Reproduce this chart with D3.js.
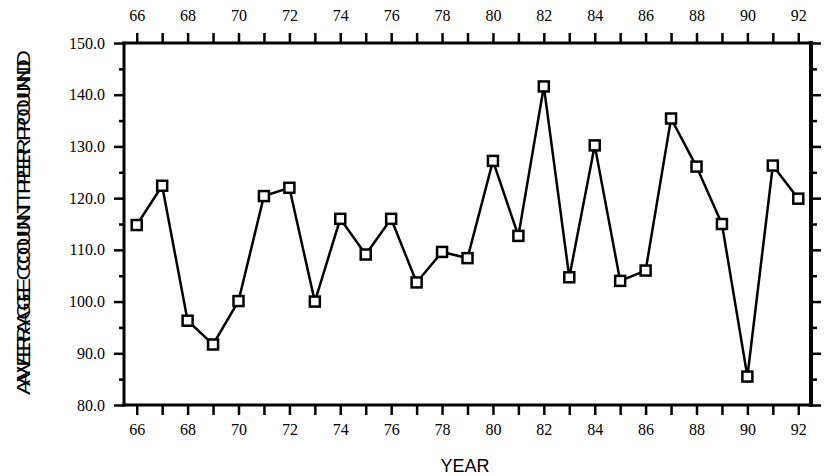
<!DOCTYPE html>
<html>
<head>
<meta charset="utf-8">
<script src="https://cdn.jsdelivr.net/npm/d3@7"></script>
<style>
  body { margin: 0; background: #fff; }
</style>
</head>
<body>
<div id="chart"></div>
<script>
// Average count per pound by year
const years = [66, 67, 68, 69, 70, 71, 72, 73, 74, 75, 76, 77, 78, 79,
               80, 81, 82, 83, 84, 85, 86, 87, 88, 89, 90, 91, 92];
const counts = [114.8, 122.4, 96.3, 91.7, 100.1, 120.4, 122.0, 100.0, 116.0, 109.1, 116.0, 103.7, 109.6, 108.4,
                127.2, 112.7, 141.6, 104.7, 130.2, 104.0, 106.0, 135.4, 126.1, 115.0, 85.5, 126.3, 119.9];
const yMajorTicks = [80, 90, 100, 110, 120, 130, 140, 150];
const yMinorTicks = [85, 95, 105, 115, 125, 135, 145];
const xLabelTicks = [66, 68, 70, 72, 74, 76, 78, 80, 82, 84, 86, 88, 90, 92];

const width = 825, height = 476;
const plot = { left: 124, right: 811, top: 43, bottom: 405 };
const serif = '"Liberation Serif", "Times New Roman", serif';
const sans = '"Liberation Sans", Arial, sans-serif';

const svg = d3.select('#chart')
    .append('svg')
    .attr('width', width)
    .attr('height', height);

const x = d3.scaleLinear().domain([65.5, 92.5]).range([plot.left, plot.right]);
const y = d3.scaleLinear().domain([80, 150]).range([plot.bottom, plot.top]);

const fmtY = d3.format('.1f');
const showX = d => xLabelTicks.includes(d) ? d : '';

function styleAxis(g) {
    g.select('.domain').remove();
    g.attr('font-family', null).attr('font-size', null);
    g.selectAll('.tick line').attr('stroke', '#000').attr('stroke-width', 2.5);
    g.selectAll('.tick text')
        .attr('fill', '#000')
        .style('font-family', serif)
        .style('font-size', '16px');
}

// left axis: major with labels, minor without
svg.append('g')
    .attr('transform', `translate(${plot.left},0)`)
    .call(d3.axisLeft(y).tickValues(yMajorTicks).tickSize(10).tickPadding(9).tickFormat(fmtY))
    .call(styleAxis);
svg.append('g')
    .attr('transform', `translate(${plot.left},0)`)
    .call(d3.axisLeft(y).tickValues(yMinorTicks).tickSize(5).tickFormat(''))
    .call(styleAxis);

// right axis, ticks only
svg.append('g')
    .attr('transform', `translate(${plot.right},0)`)
    .call(d3.axisRight(y).tickValues(yMajorTicks).tickSize(10).tickFormat(''))
    .call(styleAxis);
svg.append('g')
    .attr('transform', `translate(${plot.right},0)`)
    .call(d3.axisRight(y).tickValues(yMinorTicks).tickSize(6).tickFormat(''))
    .call(styleAxis);

// top and bottom axes, a tick every year
svg.append('g')
    .attr('transform', `translate(0,${plot.top})`)
    .call(d3.axisTop(x).tickValues(years).tickSize(10).tickPadding(12).tickFormat(showX))
    .call(styleAxis);
svg.append('g')
    .attr('transform', `translate(0,${plot.bottom})`)
    .call(d3.axisBottom(x).tickValues(years).tickSize(10).tickPadding(9).tickFormat(showX))
    .call(styleAxis);

// frame
const frame = svg.append('g').attr('stroke', '#000').attr('stroke-linecap', 'square');
frame.append('line').attr('x1', plot.left).attr('x2', plot.right).attr('y1', plot.top).attr('y2', plot.top).attr('stroke-width', 3);
frame.append('line').attr('x1', plot.left).attr('x2', plot.right).attr('y1', plot.bottom).attr('y2', plot.bottom).attr('stroke-width', 3);
frame.append('line').attr('x1', plot.left).attr('x2', plot.left).attr('y1', plot.top).attr('y2', plot.bottom).attr('stroke-width', 3);
frame.append('line').attr('x1', plot.right).attr('x2', plot.right).attr('y1', plot.top).attr('y2', plot.bottom).attr('stroke-width', 4);

// data line
const data = years.map((yr, i) => ({ year: yr, value: counts[i] }));
const line = d3.line().x(d => x(d.year)).y(d => y(d.value));

svg.append('path')
    .datum(data)
    .attr('d', line)
    .attr('fill', 'none')
    .attr('stroke', '#000')
    .attr('stroke-width', 2.5);

const size = 10;
svg.selectAll('.marker')
    .data(data)
    .enter()
    .append('rect')
    .attr('class', 'marker')
    .attr('x', d => x(d.year) - size / 2)
    .attr('y', d => y(d.value) - size / 2)
    .attr('width', size)
    .attr('height', size)
    .attr('fill', '#fff')
    .attr('stroke', '#000')
    .attr('stroke-width', 2.5);

// axis titles
svg.append('text')
    .attr('x', 465)
    .attr('y', 472)
    .attr('text-anchor', 'middle')
    .style('font-family', sans)
    .style('font-size', '18px')
    .text('YEAR');

// the y title is printed twice, slightly offset (as in the source)
[{ cy: 227, bx: 30 }, { cy: 218, bx: 30 }].forEach(p => {
    svg.append('text')
        .attr('transform', `translate(${p.bx},${p.cy}) rotate(-90)`)
        .attr('text-anchor', 'middle')
        .attr('textLength', 336)
        .attr('lengthAdjust', 'spacingAndGlyphs')
        .style('font-family', sans)
        .style('font-size', '19px')
        .text('AVERAGE COUNT PER POUND');
});
</script>
</body>
</html>
